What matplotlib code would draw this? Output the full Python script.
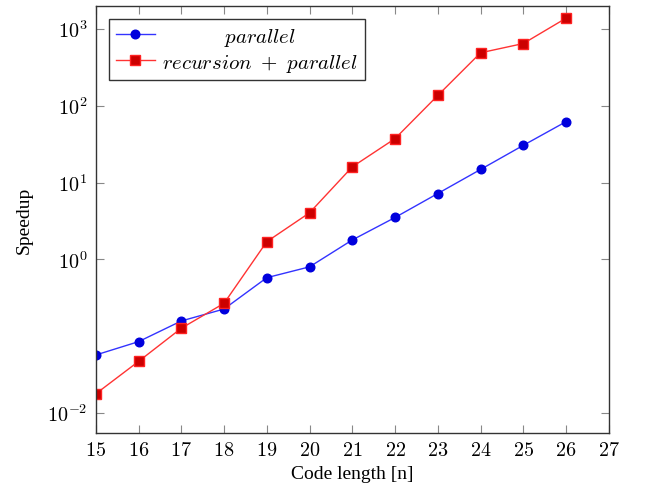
import numpy as np
import matplotlib
matplotlib.use('Agg')
import matplotlib.pyplot as plt
from matplotlib.ticker import FixedLocator, NullLocator, FuncFormatter

plt.rcParams['mathtext.fontset'] = 'cm'
plt.rcParams['font.family'] = 'Liberation Serif'

# data
code_length = [15, 16, 17, 18, 19, 20, 21, 22, 23, 24, 25, 26]
parallel = [0.057, 0.085, 0.158, 0.226, 0.578, 0.80, 1.79, 3.51, 7.2, 14.8, 30.5, 62]
recursion_parallel = [0.0178, 0.047, 0.127, 0.268, 1.70, 4.04, 16.0, 37.3, 136, 488, 644, 1377]
x_ticks = list(range(15, 28))
y_ticks = [1e-2, 1e0, 1e1, 1e2, 1e3]

fig = plt.figure(figsize=(6.47, 4.85), dpi=100)
ax = fig.add_axes([0.148, 0.105, 0.793, 0.881])

ax.plot(code_length, parallel, color='#3333ff', lw=1.0, marker='o', ms=6.2,
        mfc='#0000dd', mec='#0000dd', label=r'$parallel$')
ax.plot(code_length, recursion_parallel, color='#ff3333', lw=1.0, marker='s', ms=6.8,
        mfc='#cc0000', mec='#ff2222', label=r'$recursion\ +\ parallel$')

ax.set_yscale('log')
ax.set_xlim(15, 27)
ax.set_ylim(10 ** -2.26, 10 ** 3.30)
ax.xaxis.set_major_locator(FixedLocator(x_ticks))
ax.yaxis.set_major_locator(FixedLocator(y_ticks))
ax.yaxis.set_minor_locator(NullLocator())
ax.xaxis.set_major_formatter(FuncFormatter(lambda v, p: r'$%d$' % v))
ax.yaxis.set_major_formatter(FuncFormatter(lambda v, p: r'$10^{%d}$' % round(np.log10(v))))

ax.tick_params(direction='in', length=6, width=0.8, color='#888888',
               top=True, right=True, labelsize=14.5, pad=6)
for s in ax.spines.values():
    s.set_color('#333333')
    s.set_linewidth(1.0)

ax.set_xlabel('Code length [n]', fontsize=14, labelpad=3)
ax.set_ylabel('Speedup', fontsize=14, labelpad=10)

leg = ax.legend(loc='upper left', fontsize=15, fancybox=False, framealpha=1,
                edgecolor='#333333', borderaxespad=0.65, handlelength=1.9,
                handletextpad=0.35, borderpad=0.3, labelspacing=0.2)
leg.get_frame().set_linewidth(1.0)

# center legend entries like pgfplots does
fig.canvas.draw()
r = fig.canvas.get_renderer()
texts = leg.get_texts()
widths = [t.get_window_extent(r).width for t in texts]
wmax = max(widths)
for t, w in zip(texts, widths):
    t.set_position(((wmax - w) / 2, 0))

fig.savefig('out.png', dpi=100)
